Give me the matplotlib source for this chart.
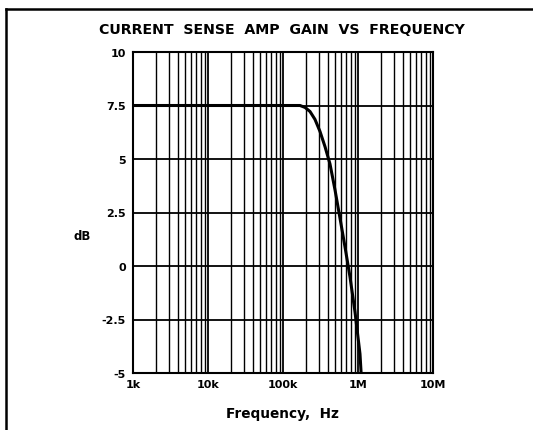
import matplotlib
matplotlib.use("Agg")
import matplotlib.pyplot as plt
from matplotlib.lines import Line2D
from matplotlib.ticker import FixedLocator, NullFormatter

# Data
freq_hz = [1e3, 1e4, 1e5, 1.685e5, 1.966e5, 2.29e5, 2.67e5, 3.11e5, 3.63e5,
           4.23e5, 4.94e5, 5.75e5, 6.71e5, 7.82e5, 9.12e5, 1.063e6, 1.10e6]
gain_db = [7.5, 7.5, 7.5, 7.5, 7.41, 7.22, 6.85, 6.29, 5.58,
           4.77, 3.55, 2.24, 0.89, -0.51, -2.15, -4.11, -5.0]

x_ticks = [1e3, 1e4, 1e5, 1e6, 1e7]
x_labels = ["1k", "10k", "100k", "1M", "10M"]
y_ticks = [-5, -2.5, 0, 2.5, 5, 7.5, 10]
y_labels = ["-5", "-2.5", "0", "2.5", "5", "7.5", "10"]

title = "CURRENT  SENSE  AMP  GAIN  VS  FREQUENCY"
x_title = "Frequency,  Hz"
y_title = "dB"

plt.rcParams['font.family'] = ['DejaVu Sans']

W, H = 533, 431
fig = plt.figure(figsize=(W / 100, H / 100), dpi=100)
fig.patch.set_facecolor("white")

L, R, T, B = 133, 433, 53, 374
ax = fig.add_axes([L / W, 1 - B / H, (R - L) / W, (B - T) / H])
ax.set_xscale("log")
ax.set_xlim(1e3, 1e7)
ax.set_ylim(-5, 10)

minor = [m * 10 ** e for e in range(3, 7) for m in range(2, 10)]
ax.xaxis.set_major_locator(FixedLocator(x_ticks))
ax.xaxis.set_minor_locator(FixedLocator(minor))
ax.xaxis.set_minor_formatter(NullFormatter())
ax.set_xticks(x_ticks)
ax.set_xticklabels(x_labels, fontsize=8, fontweight="bold")
ax.set_yticks(y_ticks)
ax.set_yticklabels(y_labels, fontsize=8, fontweight="bold")
ax.tick_params(axis="both", which="both", length=0)
ax.tick_params(axis="x", pad=4)
ax.tick_params(axis="y", pad=5)
ax.grid(True, which="major", axis="both", color="black", linewidth=1.3)
ax.grid(True, which="minor", axis="x", color="black", linewidth=1.0)
for s in ax.spines.values():
    s.set_linewidth(1.5)
    s.set_color("black")

ax.plot(freq_hz, gain_db, color="black", linewidth=2.2, zorder=5,
        solid_capstyle="butt", solid_joinstyle="round")

fig.text(282 / W, 1 - 30 / H, title, ha="center", va="center",
         fontsize=10.2, fontweight="bold")
fig.text(282 / W, 1 - 414 / H, x_title, ha="center", va="center",
         fontsize=9.8, fontweight="bold")
fig.text(82 / W, 1 - 237 / H, y_title, ha="center", va="center",
         fontsize=8.5, fontweight="bold")

# outer frame (top and left edges)
fig.add_artist(Line2D([6 / W, 1.0], [1 - 10 / H, 1 - 10 / H],
                      transform=fig.transFigure, color="black", linewidth=1.8))
fig.add_artist(Line2D([6 / W, 6 / W], [1 - 10 / H, 0.0],
                      transform=fig.transFigure, color="black", linewidth=1.8))

fig.savefig("out.png", dpi=100, facecolor="white")
